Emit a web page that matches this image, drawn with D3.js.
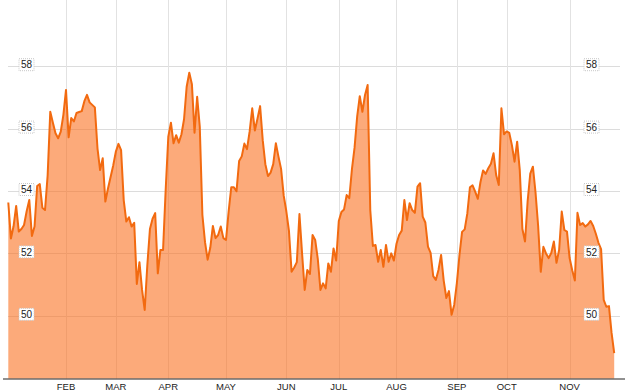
<!DOCTYPE html>
<html>
<head>
<meta charset="utf-8">
<script src="https://cdnjs.cloudflare.com/ajax/libs/d3/7.8.5/d3.min.js"></script>
<style>
  html, body { margin: 0; padding: 0; background: #fff; }
  svg { display: block; font-family: "Liberation Sans", Arial, sans-serif; }
</style>
</head>
<body>
<div id="viz"></div>
<script>
// daily closing values, one per trading day (Jan .. late Nov)
var values = [
  53.63, 52.48, 52.87, 53.52, 52.70, 52.78, 52.91, 53.35, 53.71, 52.56,
  52.86, 54.16, 54.22, 53.46, 53.39, 54.50, 56.54, 56.19, 55.85, 55.69,
  55.90, 56.44, 57.24, 55.72, 56.34, 56.23, 56.50, 56.53, 56.56, 56.88,
  57.08, 56.84, 56.76, 56.68, 55.37, 54.67, 55.05, 53.66, 54.08, 54.45,
  54.82, 55.26, 55.51, 55.31, 53.71, 53.02, 53.16, 52.86, 52.98, 51.02,
  51.72, 50.83, 50.19, 51.62, 52.78, 53.11, 53.29, 51.36, 52.11, 52.11,
  54.04, 55.74, 56.19, 55.53, 55.79, 55.55, 55.81, 56.30, 57.34, 57.79,
  57.42, 55.87, 57.02, 56.06, 53.23, 52.36, 51.80, 52.18, 52.88, 52.49,
  52.59, 52.86, 52.49, 52.43, 53.34, 54.12, 54.12, 53.99, 54.96, 55.11,
  55.52, 55.34, 55.90, 56.65, 55.94, 56.32, 56.72, 55.63, 54.86, 54.48,
  54.59, 54.86, 55.53, 55.10, 54.71, 53.85, 53.35, 52.72, 51.41, 51.55,
  51.72, 53.26, 52.00, 50.83, 51.47, 51.34, 52.59, 52.43, 51.82, 50.83,
  51.04, 50.88, 51.68, 51.41, 52.16, 51.77, 53.04, 53.33, 53.41, 53.87,
  53.77, 54.69, 55.38, 56.38, 57.04, 56.54, 57.08, 57.40, 53.39, 52.24,
  52.27, 51.73, 52.11, 51.57, 52.27, 51.73, 52.00, 51.77, 52.31, 52.59,
  52.73, 53.71, 53.07, 53.61, 53.39, 53.30, 54.14, 54.25, 53.18, 52.99,
  52.22, 52.02, 51.27, 51.15, 51.47, 51.95, 51.13, 50.57, 50.79, 50.03,
  50.35, 51.04, 51.94, 52.69, 52.77, 53.28, 54.12, 54.18, 53.98, 53.75,
  54.28, 54.66, 54.55, 54.73, 54.87, 55.21, 54.51, 54.19, 56.65, 55.82,
  55.91, 55.86, 55.47, 54.94, 55.58, 54.67, 52.78, 52.38, 53.68, 54.56,
  54.78, 53.96, 52.88, 51.41, 52.21, 52.00, 51.85, 52.01, 52.38, 51.70,
  52.11, 53.34, 52.75, 52.70, 51.85, 51.46, 51.13, 53.30, 52.91, 52.97,
  52.86, 52.93, 53.04, 52.88, 52.63, 52.34, 52.14, 50.51, 50.29, 50.31,
  49.45, 48.80
];

// month labels and the trading day index where each month starts
var monthNames = ['FEB', 'MAR', 'APR', 'MAY', 'JUN', 'JUL', 'AUG', 'SEP', 'OCT', 'NOV'];
var monthStarts = [22, 41, 61, 83, 106, 126, 148, 171, 190, 214];

// value axis ticks
var yTicks = [50, 52, 54, 56, 58];

var width = 630;
var height = 392;

var svg = d3.select('#viz').append('svg')
	.attr('width', width)
	.attr('height', height);

// scales
var x = d3.scaleLinear()
	.domain([0, values.length - 1])
	.range([8.3, 614.2]);

var y = d3.scaleLinear()
	.domain([48, 58])
	.range([378.2, 66.2]);

var bottom = 378.5;

// horizontal grid
svg.append('g').attr('id', 'hgrid')
	.selectAll('line')
	.data(yTicks).enter()
	.append('line')
	.attr('x1', 8)
	.attr('x2', 620)
	.attr('y1', function(d) { return Math.round(y(d)) + 0.5; })
	.attr('y2', function(d) { return Math.round(y(d)) + 0.5; })
	.attr('style', 'stroke: #dcdcdc; stroke-width: 1px;');

// vertical grid at month starts
svg.append('g').attr('id', 'vgrid')
	.selectAll('line')
	.data(monthStarts).enter()
	.append('line')
	.attr('x1', function(d) { return Math.round(x(d)) + 0.5; })
	.attr('x2', function(d) { return Math.round(x(d)) + 0.5; })
	.attr('y1', 0)
	.attr('y2', bottom)
	.attr('style', 'stroke: #e2e2e2; stroke-width: 1px;');

// area + line
var area = d3.area()
	.x(function(d, i) { return x(i); })
	.y0(bottom)
	.y1(function(d) { return y(d); });

var line = d3.line()
	.x(function(d, i) { return x(i); })
	.y(function(d) { return y(d); });

svg.append('path')
	.datum(values)
	.attr('d', area)
	.attr('style', 'fill: #fa7121; fill-opacity: 0.6; stroke: none;');

svg.append('path')
	.datum(values)
	.attr('d', line)
	.attr('style', 'fill: none; stroke: #f26a10; stroke-width: 2px; stroke-linejoin: round;');

// bottom axis line
svg.append('line')
	.attr('x1', 3)
	.attr('x2', 625)
	.attr('y1', bottom + 0.5)
	.attr('y2', bottom + 0.5)
	.attr('style', 'stroke: #222; stroke-width: 1px;');

// month labels
svg.append('g').attr('id', 'months')
	.selectAll('text')
	.data(monthStarts).enter()
	.append('text')
	.attr('x', function(d) { return x(d); })
	.attr('y', 390)
	.attr('text-anchor', 'middle')
	.attr('style', 'font-size: 9.5px; fill: #222;')
	.text(function(d, i) { return monthNames[i]; });

// value labels, boxed, on both sides
function makeLabels(id, cx) {
	var g = svg.append('g').attr('id', id);
	var lab = g.selectAll('g')
		.data(yTicks).enter()
		.append('g')
		.attr('transform', function(d) { return 'translate(' + cx + ',' + (y(d) - 1.5) + ')'; });
	lab.append('rect')
		.attr('x', -7.5)
		.attr('y', -6)
		.attr('width', 15)
		.attr('height', 12)
		.attr('style', 'fill: #fff; stroke: #c8c8c8; stroke-width: 1px; stroke-dasharray: 1,1;');
	lab.append('text')
		.attr('text-anchor', 'middle')
		.attr('y', 3.6)
		.attr('style', 'font-size: 10px; fill: #222;')
		.text(function(d) { return d; });
	return g;
}

makeLabels('leftLabels', 26.5);
makeLabels('rightLabels', 591.5);
</script>
</body>
</html>
